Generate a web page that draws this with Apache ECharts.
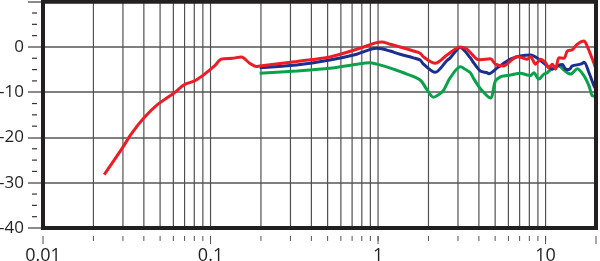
<!DOCTYPE html>
<html>
<head>
<meta charset="utf-8">
<script src="https://cdn.jsdelivr.net/npm/echarts@6/dist/echarts.min.js"></script>
<style>
html,body{margin:0;padding:0;background:#fff;}
#chart{width:600px;height:261px;}
</style>
</head>
<body>
<div id="chart"></div>
<script>
// ---- Data ----
const xTickLabels = [0.01, 0.1, 1, 10];
const yTickLabels = [0, -10, -20, -30, -40];
const xGridFreqs = [0.02,0.03,0.04,0.05,0.06,0.07,0.08,0.09,0.1,
                    0.2,0.3,0.4,0.5,0.6,0.7,0.8,0.9,1,
                    2,3,4,5,6,7,8,9,10];
const xMajorTicks = [0.01, 0.1, 1, 10, 20];
const yMinorTicks = [7.5,5,2.5,-2.5,-5,-7.5,-12.5,-15,-17.5,-22.5,-25,-27.5,-32.5,-35,-37.5];

const redFreq = [0.0232,0.0298,0.0335,0.0402,0.0484,0.0609,0.0699,0.0802,0.0921,0.1057,0.1159,0.1354,0.1527,0.1712,0.1878,0.1965,0.326,0.516,0.746,0.982,1.052,1.18,1.354,1.627,1.784,1.867,2.194,2.579,3.097,3.397,3.899,4.08,4.685,5.02,5.628,6.17,6.77,7.255,7.77,8.135,8.71,9.34,10,10.46,10.97,11.48,12.01,12.87,13.49,14.45,15.48,16.96,17.36,19.04,20];
const redDb   = [-28.2,-22.3,-19.3,-15.6,-12.7,-10.1,-8.3,-7.5,-6.0,-4.2,-2.7,-2.5,-2.2,-3.6,-4.3,-4.2,-3.2,-2.2,-0.5,0.95,1.1,0.6,0.0,-0.9,-1.4,-2.2,-3.6,-1.8,0.0,-0.5,-2.7,-2.8,-2.6,-3.8,-4.2,-3.1,-2.1,-2.4,-2.7,-2.1,-3.8,-2.7,-3.5,-4.6,-3.8,-4.9,-2.4,-2.5,-0.9,-0.6,0.6,1.3,0.9,-2.7,-4.9];

const blueFreq = [0.1965,0.326,0.516,0.746,0.982,1.052,1.18,1.354,1.627,1.784,1.867,2.194,2.579,2.698,3.097,3.555,3.722,4.08,4.476,4.577,5.2,6.17,7.087,8.135,9.12,10.24,10.97,12.01,12.6,13.17,13.8,14.45,16.2,16.96,18.17,19.46,20];
const blueDb   = [-4.6,-4.0,-2.9,-1.6,-0.3,-0.4,-0.9,-1.6,-2.4,-2.9,-3.8,-5.6,-3.0,-2.4,-0.1,-2.4,-3.5,-5.3,-5.7,-5.9,-4.5,-2.7,-2.0,-1.8,-2.7,-4.2,-4.9,-4.0,-3.9,-4.9,-5.0,-4.2,-3.8,-3.4,-5.7,-8.6,-9.3];

const greenFreq = [0.1965,0.326,0.516,0.746,0.896,0.982,1.126,1.235,1.486,1.784,1.957,2.143,2.351,2.46,2.698,3.097,3.171,3.555,3.722,4.08,4.685,5.02,5.377,5.628,6.17,7.087,7.77,8.135,8.51,9.12,9.77,10.24,10.71,12.01,12.87,14.12,15.48,16.96,18.17,19.04,20];
const greenDb   = [-5.8,-5.3,-4.7,-3.8,-3.5,-3.8,-4.4,-4.9,-6.0,-7.3,-9.4,-11.1,-10.3,-9.6,-6.8,-4.4,-4.5,-5.7,-7.0,-9.2,-11.3,-7.5,-6.6,-6.4,-6.2,-5.8,-6.2,-6.3,-5.7,-7.1,-6.0,-5.7,-5.0,-4.2,-5.1,-6.0,-4.8,-6.4,-8.6,-10.8,-10.9];

// ---- Chart ----
const zip = (a, b) => a.map((v, i) => [v, b[i]]);
const FONT = '"Open Sans", "Liberation Sans", sans-serif';
const INK = '#231f20';

const chart = echarts.init(document.getElementById('chart'), null, {renderer: 'canvas'});

function tickItem(dy1, dy2, color, width) {
  return function (params, api) {
    const p = api.coord([api.value(0), -40]);
    return {type: 'line', shape: {x1: p[0], y1: p[1] + dy1, x2: p[0], y2: p[1] + dy2},
            style: {stroke: color, lineWidth: width}};
  };
}

const option = {
  animation: false,
  grid: {left: 43, right: 4, top: 1.7, bottom: 33, show: true,
         containLabel: false, outerBoundsMode: 'none',
         borderColor: INK, borderWidth: 4, z: 10},
  xAxis: {
    type: 'log', logBase: 10, min: 0.01, max: 20,
    axisLine: {show: false}, axisTick: {show: false}, splitLine: {show: false},
    axisLabel: {
      margin: 19, fontSize: 18, fontFamily: FONT, color: INK,
      formatter: function (v) {
        const e = Math.log10(v);
        for (const t of xTickLabels) {
          if (Math.abs(Math.log10(t) - e) < 1e-6) return String(t);
        }
        return '';
      }
    }
  },
  yAxis: {
    type: 'value', min: -40, max: 10, interval: 10,
    axisLine: {show: false},
    axisTick: {show: true, length: 15, lineStyle: {color: '#8a8a8a', width: 2}},
    splitLine: {show: true, lineStyle: {color: '#808080', width: 2}},
    axisLabel: {
      margin: 19, fontSize: 17, fontFamily: FONT, color: INK,
      formatter: function (v) { return yTickLabels.indexOf(v) >= 0 ? String(v) : ''; }
    }
  },
  series: [
    {type: 'custom', silent: true, z: 1, clip: false,
     data: xGridFreqs.map(f => [f, -40]),
     renderItem: function (params, api) {
       const f = api.value(0);
       const p1 = api.coord([f, -40]);
       const p2 = api.coord([f, 10]);
       return {type: 'line', shape: {x1: p1[0], y1: p1[1], x2: p2[0], y2: p2[1]},
               style: {stroke: '#505050', lineWidth: 1.2}};
     }},
    {type: 'custom', silent: true, z: 1, clip: false,
     data: xGridFreqs.map(f => [f, -40]),
     renderItem: tickItem(8, 13, '#555', 1)},
    {type: 'custom', silent: true, z: 1, clip: false,
     data: xMajorTicks.map(f => [f, -40]),
     renderItem: tickItem(8, 16, '#555', 1)},
    {type: 'custom', silent: true, z: 1, clip: false,
     data: yMinorTicks.map(v => [0.01, v]),
     renderItem: function (params, api) {
       const p = api.coord([0.01, api.value(1)]);
       return {type: 'line', shape: {x1: p[0] - 11, y1: p[1], x2: p[0] - 6, y2: p[1]},
               style: {stroke: '#333', lineWidth: 1.2}};
     }},
    {name: 'green', type: 'line', data: zip(greenFreq, greenDb), showSymbol: false,
     smooth: 0.3, z: 3, lineStyle: {color: '#0aa14b', width: 3}},
    {name: 'blue', type: 'line', data: zip(blueFreq, blueDb), showSymbol: false,
     smooth: 0.3, z: 4, lineStyle: {color: '#1b2f8f', width: 3}},
    {name: 'red', type: 'line', data: zip(redFreq, redDb), showSymbol: false,
     smooth: 0.3, z: 5, lineStyle: {color: '#ee1c24', width: 3}}
  ]
};
chart.setOption(option);
</script>
</body>
</html>
